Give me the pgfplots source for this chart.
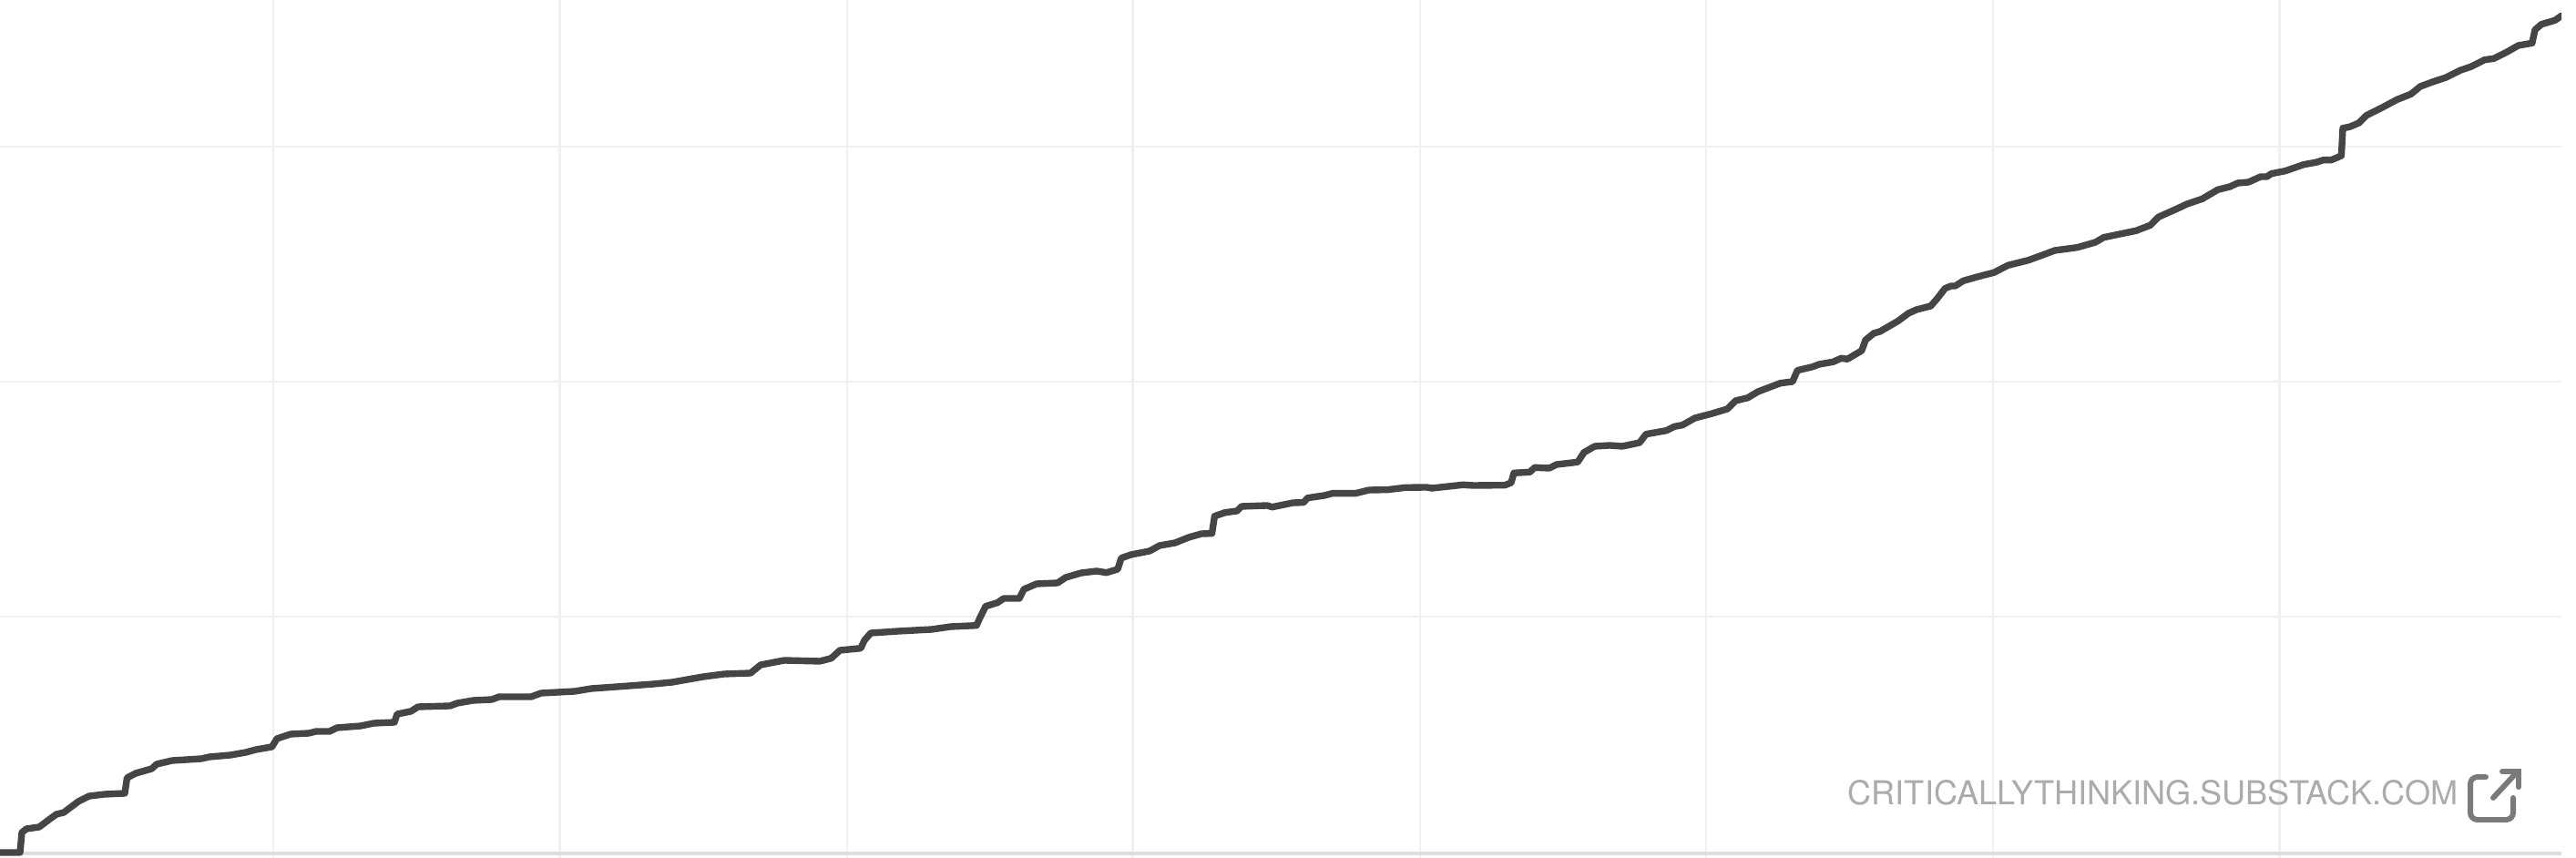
\documentclass[border=0pt]{standalone}
\usepackage{fontspec}
\setmainfont{TeX Gyre Heros}
\usepackage{pgfplots}
\usepackage{pgfplotstable}
\pgfplotsset{compat=1.18}
\definecolor{gridc}{HTML}{F0F0F0}
\definecolor{basec}{HTML}{DDDDDD}
\definecolor{linec}{HTML}{454545}
\definecolor{wm}{HTML}{ABABAB}
\definecolor{ic}{HTML}{7A7A7A}
\pgfplotstableread{
x y
0 936
22 936
24 914
29 910
43 908
55 899
62 894
70 892
86 880
98 874
115 872
137 871
139.5 854
149 849
166.5 844
172 839
189 835
221 833
230 831
253 829
270 826
281 823
298.5 820
304 811
319 806
339 805
347 803
362 803
370 799
396 797
410.5 794
433 793
436 784
451 781
459 776
494 775
502 772
519.5 769
540 768
548 765
583 765
594 761
631 759
649 756
677 754
717.5 751
738 749
772 743
795 740
824 739
835 730
861 725
900 726
912.6 722.7
922 714
945 711.7
949 703
956 695
986 693
1023 691
1043.5 688
1072 686.7
1075 680
1082 665.7
1095 661.7
1102 657
1119 657
1124 647
1138 641
1161 640
1170 634
1187 629
1204 627
1214.6 628.7
1227 625
1231 612.7
1241.6 609
1262 605
1273 599
1290 596
1305 590
1319 586
1330.5 585.7
1333.4 566.7
1345 562.7
1358 561
1363 556
1391 555
1396.5 556.7
1405 555
1419.5 552
1431 551.7
1435.6 546.7
1454 544
1462.6 541.7
1488 541.7
1503 538
1523 537.7
1543 535.3
1566 535
1572 536
1606 532.3
1617.5 533
1652 532.7
1659 530
1662 519.3
1679.6 518.3
1684.7 513.3
1701 514
1709 510
1732 507.3
1739 496.7
1750.7 490
1767 489
1781 490
1800 486
1807 476.7
1829.5 472.7
1838.4 468.3
1847 466.7
1860.7 459
1878.6 454.3
1896.4 449
1905.4 440
1918.8 436.7
1930 430
1954.5 420.7
1967.9 419
1973.2 406.7
1990 402.7
1997 400
2012.5 397.3
2021.4 393.3
2028 394.3
2043.8 385
2048 373.3
2057 366
2063.8 364
2084 352.3
2095 344
2104 340
2119.6 336
2126.3 328.3
2135.3 316.7
2142 314
2146.4 314
2155.4 308.3
2173.2 303.3
2188.8 299.3
2204.5 291.3
2226.8 285.7
2242.4 280
2255.8 275
2280.4 271.7
2300.4 266
2309.4 260.7
2345 253.3
2360.7 247.3
2369.6 238.3
2389.7 229.3
2401 224
2417.8 218.3
2434.7 208.3
2448 205
2456.6 201
2468.4 200
2481.8 194
2488.6 194
2493.6 190.7
2508.8 187.7
2529 180.7
2542.4 178.3
2550.8 175.7
2559.3 175.7
2570.4 171
2572 140.7
2579.5 139.3
2589.6 135
2598 126.7
2614.8 118.3
2631.7 109.3
2646.8 103.3
2657 95
2670.4 90
2685.5 85
2700.7 77.3
2712.5 73.3
2727.6 65.7
2737.7 64.3
2752.9 56.7
2764.6 50
2779.8 47.3
2783 32.7
2790 26.7
2805 22.3
2812 17.3
}\series
\begin{document}
\begin{tikzpicture}[x=1cm,y=1cm]
\fill[white,use as bounding box] (0,0) rectangle (28.28,9.42);
\begin{axis}[
  at={(0,0)},anchor=south west,
  scale only axis,width=28.12cm,height=9.42cm,
  xmin=0,xmax=2812,ymin=0,ymax=942,y dir=reverse,
  axis line style={draw=none},
  major tick length=0pt,
  xtick={300,614.5,930,1243.5,1559,1873,2188,2502.5},
  ytick={161,419,677},
  xticklabels={},yticklabels={},
  grid=major,
  major grid style={draw=gridc,line width=0.6pt},
  extra y ticks={937},
  extra y tick labels={},
  extra y tick style={major grid style={draw=basec,line width=0.9pt}},
]
\addplot[draw=linec,line width=2.1pt,line join=round,line cap=round] table[x=x,y=y] {\series};
\node[anchor=base west,text=wm,font=\fontsize{10.28pt}{12pt}\selectfont,inner sep=0pt] at (axis cs:2028,884) {CRITICALLYTHINKING.SUBSTACK.COM};
\draw[ic,line width=1.7pt,line cap=round,rounded corners=2.2pt] (axis cs:2729,853) -- (axis cs:2712,853) -- (axis cs:2712,900) -- (axis cs:2759,900) -- (axis cs:2759,876);
\draw[ic,line width=1.7pt,line cap=round] (axis cs:2737,876) -- (axis cs:2763,848);
\draw[ic,line width=1.7pt,line cap=round,line join=miter] (axis cs:2747,847) -- (axis cs:2765,847) -- (axis cs:2765,864);
\end{axis}
\end{tikzpicture}
\end{document}
